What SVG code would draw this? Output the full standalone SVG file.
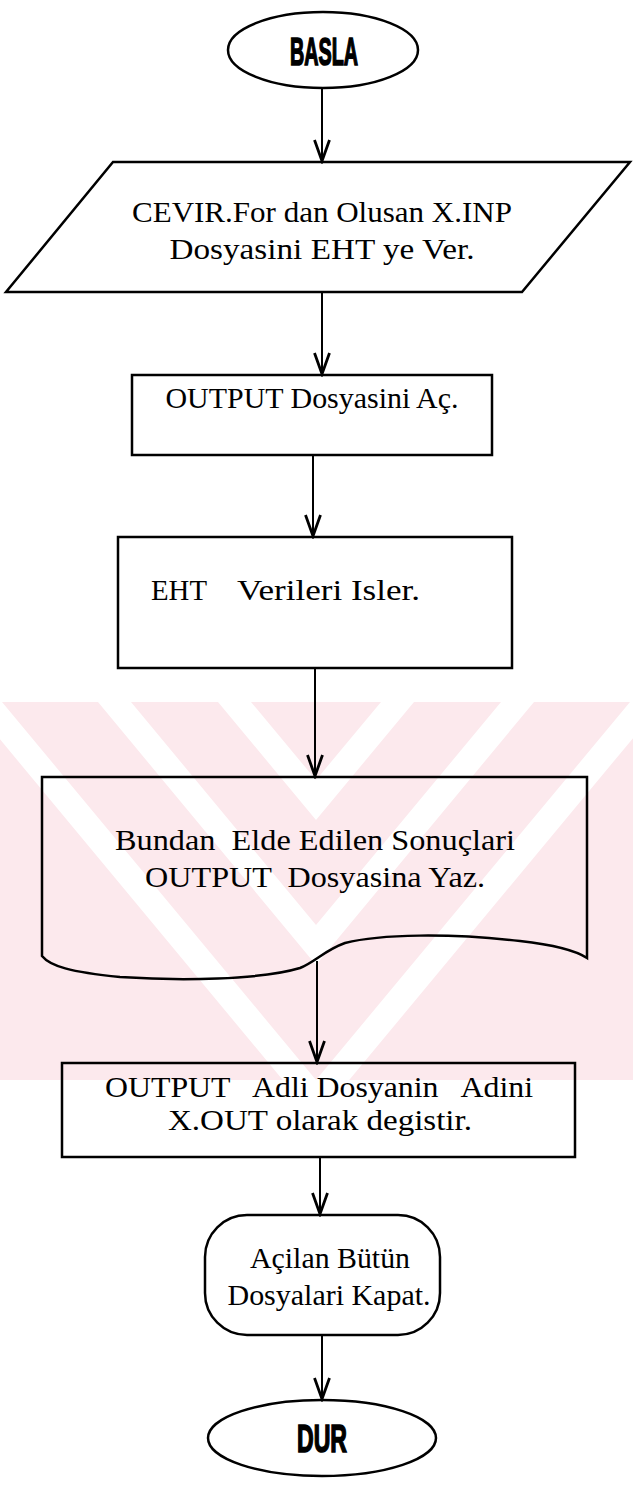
<svg xmlns="http://www.w3.org/2000/svg" width="633" height="1492" viewBox="0 0 633 1492">
<style>
.shape{fill:none;stroke:#000;stroke-width:2.5}
.lbl{font-family:"Liberation Serif","Times New Roman",serif;font-size:30px;fill:#000;text-anchor:middle}
.big{font-family:"Liberation Sans Narrow","Liberation Sans",sans-serif;font-weight:bold;fill:#000;stroke:#000;stroke-width:1.6;text-anchor:middle}
.conn{fill:none;stroke:#000;stroke-width:2}
</style>
<defs>
<marker id="arr" viewBox="0 -10 26 20" refX="24" refY="0" markerWidth="26" markerHeight="20" markerUnits="userSpaceOnUse" orient="auto">
<path d="M 2,-7.5 L 23,0 L 2,7.5" fill="none" stroke="#000" stroke-width="2.8" stroke-linejoin="miter"/>
</marker>
<clipPath id="wmclip"><rect x="0" y="702" width="633" height="378"/></clipPath>
</defs>
<rect width="633" height="1492" fill="#fff"/>
<g id="watermark" clip-path="url(#wmclip)">
<rect x="0" y="702" width="633" height="378" fill="#fce9ed"/>
<polygon fill="#fff" points="-31,702 316,1120 663,702 630,702 316,1080 2,702"/>
<polygon fill="#fff" points="98,702 316,965 534,702 501,702 316,925 131,702"/>
<polygon fill="#fff" points="218,702 316,820 414,702 381,702 316,780 251,702"/>
</g>
<g id="connectors">
<line class="conn" x1="322" y1="88" x2="322" y2="162" marker-end="url(#arr)"/>
<line class="conn" x1="322" y1="292" x2="322" y2="375" marker-end="url(#arr)"/>
<line class="conn" x1="313" y1="455" x2="313" y2="537" marker-end="url(#arr)"/>
<line class="conn" x1="315" y1="668" x2="315" y2="777" marker-end="url(#arr)"/>
<line class="conn" x1="317" y1="961" x2="317" y2="1063" marker-end="url(#arr)"/>
<line class="conn" x1="320" y1="1157" x2="320" y2="1215" marker-end="url(#arr)"/>
<line class="conn" x1="322" y1="1335" x2="322" y2="1400" marker-end="url(#arr)"/>
</g>
<g id="basla">
<ellipse class="shape" cx="323" cy="50" rx="95" ry="38" fill="#fff"/>
<text class="big" x="324" y="65" font-size="38" textLength="68" lengthAdjust="spacingAndGlyphs">BASLA</text>
</g>
<g id="input">
<polygon class="shape" points="113,162 630,162 522,292 6,292" fill="#fff"/>
<text class="lbl" x="322" y="222" font-size="31" textLength="380" lengthAdjust="spacingAndGlyphs">CEVIR.For dan Olusan X.INP</text>
<text class="lbl" x="322" y="259" font-size="31" textLength="305" lengthAdjust="spacingAndGlyphs">Dosyasini EHT ye Ver.</text>
</g>
<g id="open">
<rect class="shape" x="132" y="375" width="360" height="80" fill="#fff"/>
<text class="lbl" x="312" y="408" textLength="293" lengthAdjust="spacingAndGlyphs">OUTPUT Dosyasini Aç.</text>
</g>
<g id="process">
<rect class="shape" x="118" y="537" width="394" height="131" fill="#fff"/>
<text class="lbl" x="151" y="600" style="text-anchor:start" textLength="56" lengthAdjust="spacingAndGlyphs">EHT</text>
<text class="lbl" x="237" y="600" style="text-anchor:start" textLength="183" lengthAdjust="spacingAndGlyphs">Verileri Isler.</text>
</g>
<g id="document">
<path class="shape" d="M 42,777 L 587,777 L 587,958 C 575,950 555,945 520,941 C 450,933 380,934 345,943 C 325,950 315,962 300,968 C 260,980 180,981 120,977 C 70,972 50,966 42,956 Z"/>
<text class="lbl" x="315" y="850" font-size="31" xml:space="preserve" textLength="400" lengthAdjust="spacingAndGlyphs">Bundan  Elde Edilen Sonuçlari</text>
<text class="lbl" x="315" y="887" font-size="31" xml:space="preserve" textLength="340" lengthAdjust="spacingAndGlyphs">OUTPUT  Dosyasina Yaz.</text>
</g>
<g id="rename">
<rect class="shape" x="62" y="1063" width="513" height="94" fill="none"/>
<text class="lbl" x="319" y="1097" font-size="31" xml:space="preserve" textLength="428" lengthAdjust="spacingAndGlyphs">OUTPUT   Adli Dosyanin   Adini</text>
<text class="lbl" x="320" y="1130" font-size="31" textLength="304" lengthAdjust="spacingAndGlyphs">X.OUT olarak degistir.</text>
</g>
<g id="close">
<rect class="shape" x="205" y="1215" width="235" height="120" rx="42" ry="42" fill="#fff"/>
<text class="lbl" x="330" y="1268" textLength="160" lengthAdjust="spacingAndGlyphs">Açilan Bütün</text>
<text class="lbl" x="329" y="1305" textLength="203" lengthAdjust="spacingAndGlyphs">Dosyalari Kapat.</text>
</g>
<g id="dur">
<ellipse class="shape" cx="322" cy="1438" rx="114" ry="38" fill="#fff"/>
<text class="big" x="322" y="1452" font-size="38" textLength="50" lengthAdjust="spacingAndGlyphs">DUR</text>
</g>
</svg>
